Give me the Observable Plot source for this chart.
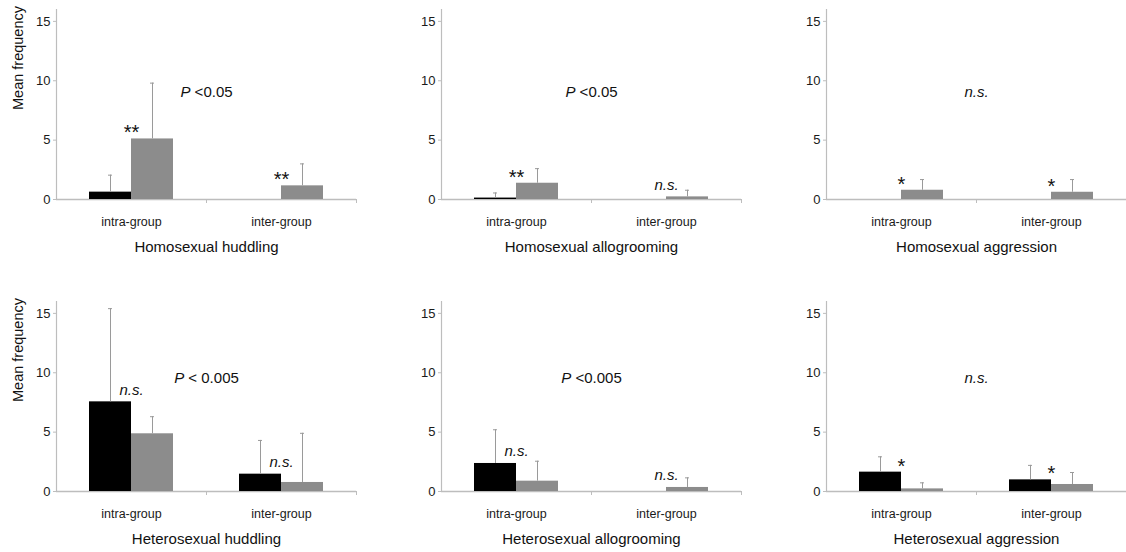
<!DOCTYPE html>
<html>
<head>
<meta charset="utf-8">
<script src="https://cdn.jsdelivr.net/npm/d3@7"></script>
<script src="https://cdn.jsdelivr.net/npm/@observablehq/plot@0.6"></script>
<style>
  html, body { margin: 0; padding: 0; background: #fff; }
  #wrap { position: relative; width: 1126px; height: 552px; overflow: hidden; background: #fff; }
  .panel { position: absolute; width: 385px; }
  .panel svg { max-width: none !important; }
</style>
</head>
<body>
<div id="wrap"></div>
<script>
// ---- data ----
const groups = ["intra-group", "inter-group"];
const panelTitles = [
  "Homosexual huddling", "Homosexual allogrooming", "Homosexual aggression",
  "Heterosexual huddling", "Heterosexual allogrooming", "Heterosexual aggression"
];
const yLabel = "Mean frequency";
const pLabels = ["P <0.05", "P <0.05", "n.s.", "P < 0.005", "P <0.005", "n.s."];
// means [intra, inter] for the black and grey series of each panel
const blackMeans = [[0.62, 0], [0.12, 0], [0, 0], [7.55, 1.46], [2.36, 0], [1.63, 0.98]];
const blackSD    = [[1.43, 0], [0.43, 0], [0, 0], [7.85, 2.84], [2.84, 0], [1.29, 1.22]];
const grayMeans  = [[5.1, 1.15], [1.37, 0.22], [0.78, 0.61], [4.86, 0.76], [0.87, 0.34], [0.22, 0.59]];
const graySD     = [[4.7, 1.85], [1.23, 0.56], [0.9, 1.07], [1.44, 4.14], [1.68, 0.81], [0.51, 1.01]];
const sigMarks   = [["**", "**"], ["**", "n.s."], ["*", "*"], ["n.s.", "n.s."], ["n.s.", "n.s."], ["*", "*"]];
const yTicks = [0, 5, 10, 15];
const yMax = 16;

// ---- layout / style ----
const W = 385, H = 260, ML = 56, MR = 29, MT = 9, MB = 61;
const half = (W - ML - MR) / 4;      // half a band, px
const barW = 42;
const FONT = "'Liberation Sans', Arial, Helvetica, sans-serif";
const AX = "#bdbdbd", ERR = "#9a9a9a", GREY = "#8c8c8c";
const lefts = [0, 385, 770], tops = [0, 292];

function panel(i) {
  const rows = [];
  groups.forEach((g, j) => {
    rows.push({group: g, series: "black", mean: blackMeans[i][j], sd: blackSD[i][j]});
    rows.push({group: g, series: "grey", mean: grayMeans[i][j], sd: graySD[i][j]});
  });
  const blk = rows.filter(d => d.series === "black" && d.mean > 0);
  const gry = rows.filter(d => d.series === "grey" && d.mean > 0);
  const sig = groups.map((g, j) => ({group: g, mark: sigMarks[i][j],
    top: Math.max(blackMeans[i][j], grayMeans[i][j])}));
  const isLeft = i % 3 === 0;
  const row = Math.floor(i / 3);
  return Plot.plot({
    width: W, height: H, marginLeft: ML, marginRight: MR, marginTop: MT, marginBottom: MB,
    style: {fontFamily: FONT, fontSize: "13px", color: "#1a1a1a", background: "transparent", overflow: "visible"},
    x: {domain: groups, padding: 0, axis: null},
    y: {domain: [0, yMax], axis: null},
    marks: [
      // y axis line
      Plot.ruleX([groups[0]], {x: d => d, dx: -half, y1: 0, y2: yMax, stroke: AX, strokeWidth: 1.2}),
      // baseline
      Plot.ruleY([0], {stroke: AX, strokeWidth: 1.6}),
      // category boundary ticks
      Plot.ruleX(groups.slice(1), {x: d => d, dx: -half, y1: 0, y2: 0, insetBottom: -4, stroke: AX}),
      Plot.ruleX(groups.slice(-1), {x: d => d, dx: half, y1: 0, y2: 0, insetBottom: -4, stroke: AX}),
      Plot.axisY({ticks: yTicks, tickSize: 3, tickPadding: 3, stroke: AX, fontSize: 13, label: null}),
      Plot.axisX({tickSize: 0, tickPadding: 18, fontSize: 12.5, label: null}),
      // y label (left column only)
      Plot.text(isLeft ? [yLabel] : [], {frameAnchor: "left", lineAnchor: "middle", text: d => d, rotate: -90, dx: -38, dy: 5.5, fontSize: 14.5, fill: "#111"}),
      // bars
      Plot.barY(blk, {x: "group", y: "mean", fill: "#000", insetLeft: half - barW, insetRight: half}),
      Plot.barY(gry, {x: "group", y: "mean", fill: GREY, insetLeft: half, insetRight: half - barW}),
      // error bars
      Plot.ruleX(blk, {x: "group", y1: "mean", y2: d => d.mean + d.sd, dx: -barW / 2, stroke: ERR}),
      Plot.ruleX(gry, {x: "group", y1: "mean", y2: d => d.mean + d.sd, dx: barW / 2, stroke: ERR}),
      Plot.tickY(blk, {x: "group", y: d => d.mean + d.sd, insetLeft: half - barW / 2 - 2, insetRight: half + barW / 2 - 2, stroke: ERR}),
      Plot.tickY(gry, {x: "group", y: d => d.mean + d.sd, insetLeft: half + barW / 2 - 2, insetRight: half - barW / 2 - 2, stroke: ERR}),
      // significance marks
      Plot.text(sig.filter(d => d.mark.startsWith("*")), {x: "group", y: "top", text: "mark", dy: -6, fontSize: 20, fill: "#111"}),
      Plot.text(sig.filter(d => !d.mark.startsWith("*")), {x: "group", y: "top", text: "mark", dy: -12, fontSize: 15, fontStyle: "italic", fill: "#111"}),
      // P label
      Plot.text([pLabels[i]], {frameAnchor: "middle", lineAnchor: "middle", text: d => d, dy: row === 0 ? -12 : -18, fontSize: 15, fill: "#111"}),
      // panel title
      Plot.text([panelTitles[i]], {frameAnchor: "bottom", lineAnchor: "middle", text: d => d, dy: 48, fontSize: 15, fill: "#111"})
    ]
  });
}

const wrap = document.getElementById("wrap");
for (let i = 0; i < 6; i++) {
  const div = document.createElement("div");
  div.className = "panel";
  div.style.left = lefts[i % 3] + "px";
  div.style.top = tops[Math.floor(i / 3)] + "px";
  const svg = panel(i);
  // italicise "P" and the whole "n.s." in the statistic label
  svg.querySelectorAll("text").forEach(t => {
    const s = t.textContent;
    if (s === pLabels[i]) {
      if (s.startsWith("P")) {
        const rest = s.slice(1);
        t.textContent = "";
        const a = document.createElementNS("http://www.w3.org/2000/svg", "tspan");
        a.setAttribute("font-style", "italic");
        a.textContent = "P";
        const b = document.createElementNS("http://www.w3.org/2000/svg", "tspan");
        b.textContent = rest.replace(/^ /, "\u00a0");
        t.appendChild(a); t.appendChild(b);
      } else {
        t.setAttribute("font-style", "italic");
      }
    }
  });
  div.appendChild(svg);
  wrap.appendChild(div);
}
</script>
</body>
</html>
